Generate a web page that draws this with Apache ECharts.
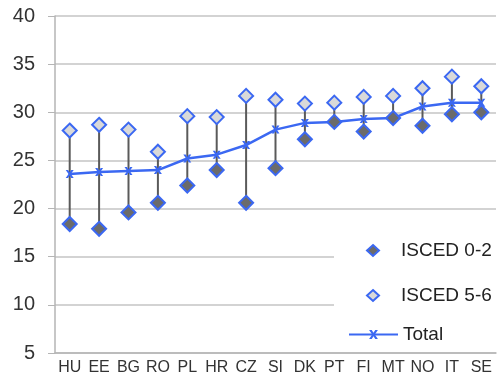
<!DOCTYPE html>
<html>
<head>
<meta charset="utf-8">
<script src="https://cdn.jsdelivr.net/npm/echarts@6/dist/echarts.min.js"></script>
<style>
  html, body { margin: 0; padding: 0; background: #fff; }
  #chart { width: 498px; height: 376px; }
</style>
</head>
<body>
<div id="chart"></div>
<script>
const countries = ['HU', 'EE', 'BG', 'RO', 'PL', 'HR', 'CZ', 'SI', 'DK', 'PT', 'FI', 'MT', 'NO', 'IT', 'SE']
const isced02 = [18.4, 17.9, 19.6, 20.6, 22.4, 24.0, 20.6, 24.2, 27.2, 29.0, 28.0, 29.4, 28.6, 29.8, 30.0]
const isced56 = [28.1, 28.7, 28.2, 25.9, 29.6, 29.5, 31.7, 31.3, 30.9, 31.0, 31.6, 31.7, 32.5, 33.7, 32.7]
const total = [23.6, 23.8, 23.9, 24.0, 25.2, 25.6, 26.6, 28.2, 28.9, 29.0, 29.3, 29.4, 30.6, 31.0, 31.0]
const yTicks = { min: 5, max: 40, step: 5 }

const blue = '#3b68f2'
const font = '"Liberation Sans", Arial, sans-serif'
const xMark = 'path://M0,0L3,0L5,3L7,0L10,0L6.5,5L10,10L7,10L5,7L3,10L0,10L3.5,5Z'

const chart = echarts.init(document.getElementById('chart'))

const legendText = { fontFamily: font, fontSize: 19, color: '#222' }
// diamond keys: small square icon, text pushed right to line up with "Total"
const diamondText = Object.assign({}, legendText, { padding: [0, 0, 0, 17] })

const option = {
  animation: false,
  grid: { left: 55, right: 2, top: 16, bottom: 20 },
  xAxis: {
    type: 'category',
    data: countries,
    axisLine: { lineStyle: { color: '#b5b5b5', width: 1.5 } },
    axisTick: { alignWithLabel: true, length: 4, lineStyle: { color: '#b5b5b5' } },
    axisLabel: { interval: 0, margin: 7, fontFamily: font, fontSize: 16, color: '#333' }
  },
  yAxis: {
    type: 'value',
    min: yTicks.min,
    max: yTicks.max,
    interval: yTicks.step,
    axisLine: { show: true, lineStyle: { color: '#b5b5b5', width: 1.5 } },
    axisTick: { show: true, length: 7, lineStyle: { color: '#b5b5b5' } },
    axisLabel: { margin: 20, fontFamily: font, fontSize: 20, color: '#333' },
    splitLine: { lineStyle: { color: '#c4c4c4', width: 1.5 } }
  },
  graphic: [{
    type: 'rect',
    left: 334,
    top: 212,
    z: 1,
    shape: { width: 164, height: 134 },
    style: { fill: '#fff' }
  }],
  legend: [
    {
      data: ['ISCED 0-2'], left: 361, top: 236, itemWidth: 12, itemHeight: 11,
      textStyle: diamondText
    },
    {
      data: ['ISCED 5-6'], left: 361, top: 281, itemWidth: 12, itemHeight: 11,
      textStyle: diamondText
    },
    {
      data: ['Total'], left: 343, top: 320, itemWidth: 49, itemHeight: 11,
      textStyle: legendText
    }
  ],
  series: [
    {
      name: 'range',
      type: 'custom',
      silent: true,
      z: 2,
      data: countries.map((c, i) => [i, isced02[i], isced56[i]]),
      encode: { x: 0, y: [1, 2] },
      renderItem: function (params, api) {
        const a = api.coord([api.value(0), api.value(1)])
        const b = api.coord([api.value(0), api.value(2)])
        return {
          type: 'line',
          shape: { x1: a[0], y1: a[1], x2: b[0], y2: b[1] },
          style: { stroke: '#5a5a5a', lineWidth: 2 }
        }
      }
    },
    {
      name: 'Total',
      type: 'line',
      z: 3,
      data: total,
      symbol: xMark,
      symbolSize: 8,
      showAllSymbol: true,
      lineStyle: { color: blue, width: 2.5 },
      itemStyle: { color: blue }
    },
    {
      name: 'ISCED 0-2',
      type: 'scatter',
      z: 4,
      data: isced02,
      symbol: 'diamond',
      symbolSize: 14,
      itemStyle: { color: '#6b6b6b', borderColor: blue, borderWidth: 2, opacity: 1 }
    },
    {
      name: 'ISCED 5-6',
      type: 'scatter',
      z: 4,
      data: isced56,
      symbol: 'diamond',
      symbolSize: 14,
      itemStyle: { color: '#d9d9d9', borderColor: blue, borderWidth: 2, opacity: 1 }
    }
  ]
}

chart.setOption(option)
</script>
</body>
</html>
